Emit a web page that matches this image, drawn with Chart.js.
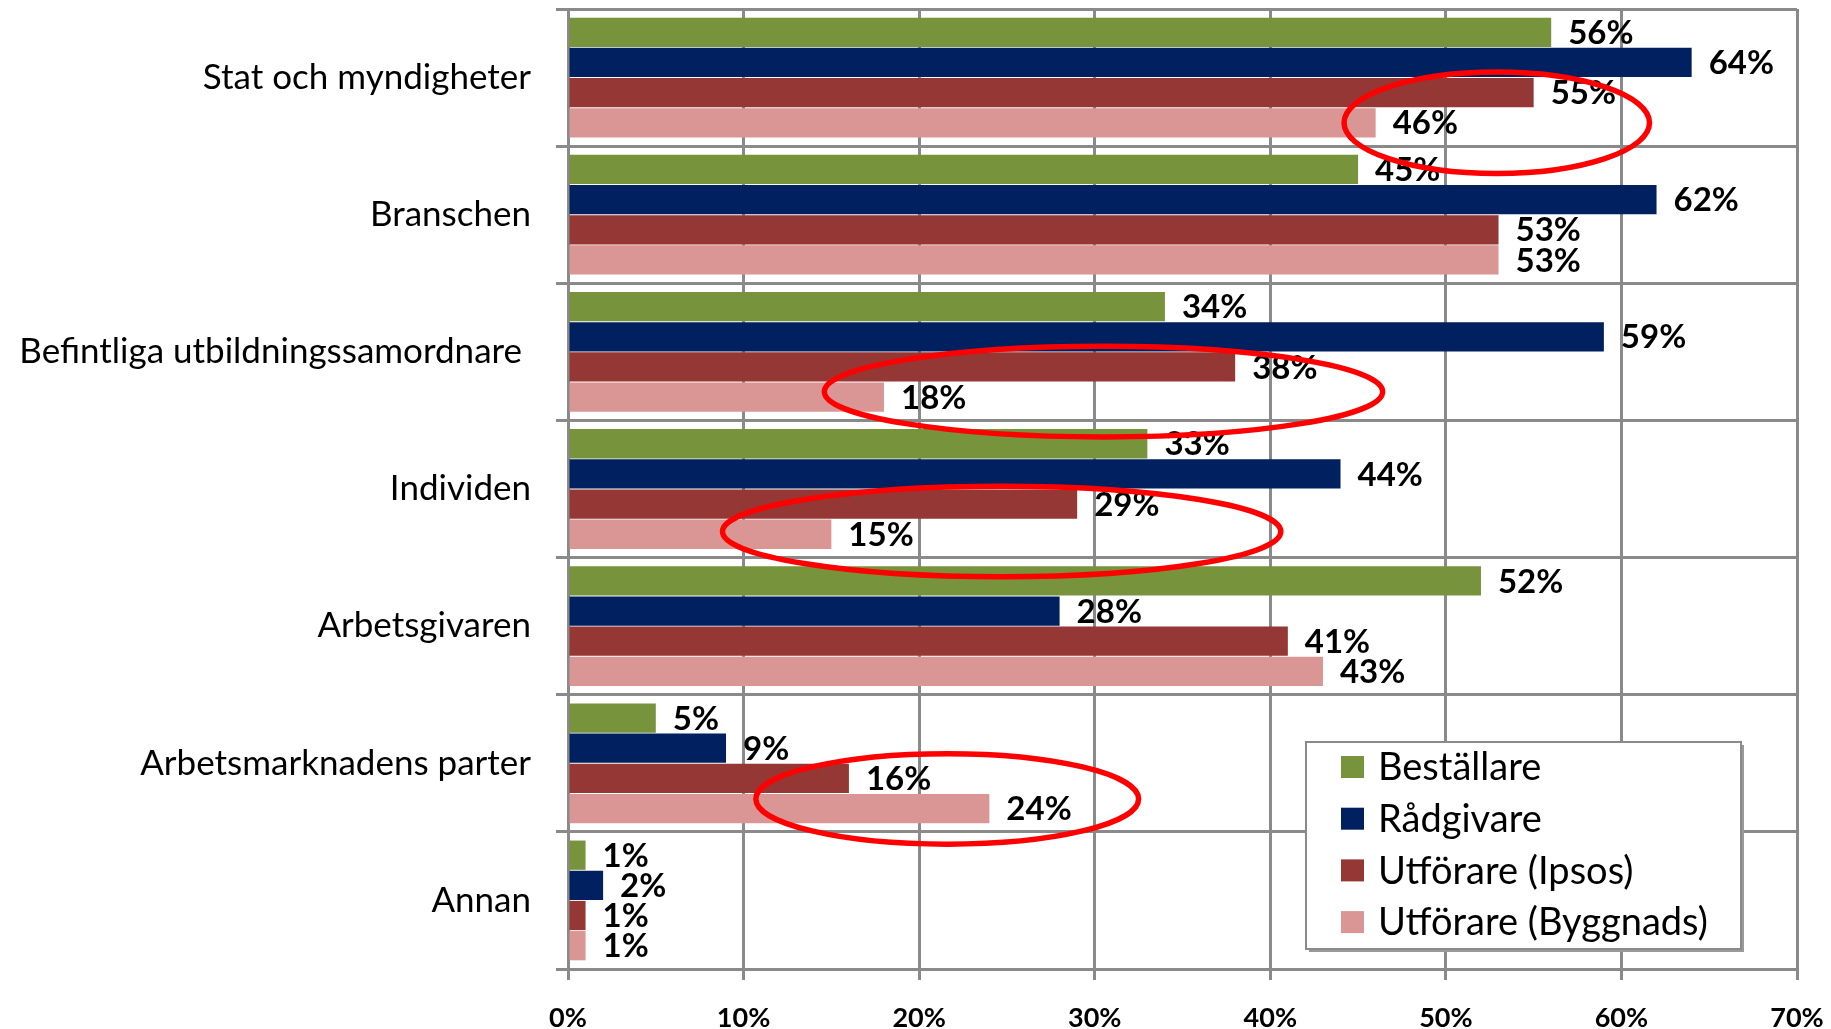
<!DOCTYPE html>
<html>
<head>
<meta charset="utf-8">
<script src="https://cdn.jsdelivr.net/npm/chart.js@4/dist/chart.umd.min.js"></script>
<style>
  html, body { margin: 0; padding: 0; background: #ffffff; }
  canvas { display: block; }
</style>
</head>
<body>
<canvas id="chart" width="1831" height="1029"></canvas>
<script>
// Categories (top to bottom) and the four respondent groups, in percent
const categories = [
  'Stat och myndigheter',
  'Branschen',
  'Befintliga utbildningssamordnare ',
  'Individen',
  'Arbetsgivaren',
  'Arbetsmarknadens parter',
  'Annan'
];
const seriesNames = ['Beställare', 'Rådgivare', 'Utförare (Ipsos)', 'Utförare (Byggnads)'];
const bestallare       = [56, 45, 34, 33, 52, 5, 1];
const radgivare        = [64, 62, 59, 44, 28, 9, 2];
const utforareIpsos    = [55, 53, 38, 29, 41, 16, 1];
const utforareByggnads = [46, 53, 18, 15, 43, 24, 1];
const xTickValues = [0, 10, 20, 30, 40, 50, 60, 70];

const seriesColors = ['#77933c', '#002060', '#953735', '#d99694'];
const gridColor = '#8a8a8a';

// Percent labels at the end of every bar
const valueLabels = {
  id: 'valueLabels',
  afterDatasetsDraw(chart, args, opts) {
    const ctx = chart.ctx;
    ctx.save();
    ctx.font = opts.font;
    ctx.fillStyle = opts.color;
    ctx.textAlign = 'left';
    ctx.textBaseline = 'middle';
    chart.data.datasets.forEach((ds, i) => {
      chart.getDatasetMeta(i).data.forEach((bar, j) => {
        ctx.fillText(ds.data[j] + '%', bar.x + opts.offset, bar.y + 1);
      });
    });
    ctx.restore();
  }
};

// Red ellipses that highlight groups of bars, placed in axis units
const highlightRings = {
  id: 'highlightRings',
  afterDraw(chart, args, opts) {
    const ctx = chart.ctx;
    const xs = chart.scales.x, ys = chart.scales.y;
    const band = ys.getPixelForValue(1) - ys.getPixelForValue(0);
    ctx.save();
    ctx.strokeStyle = opts.color;
    ctx.lineWidth = opts.width;
    opts.rings.forEach(r => {
      const cx = xs.getPixelForValue(r.center);
      const rx = xs.getPixelForValue(r.center + r.halfSpan) - cx;
      const cy = ys.getPixelForValue(r.category) + r.shift * band;
      const ry = r.halfHeight * band;
      ctx.beginPath();
      ctx.ellipse(cx, cy, rx, ry, 0, 0, Math.PI * 2);
      ctx.stroke();
    });
    ctx.restore();
  }
};

// Boxed legend inside the lower right of the plot
const boxLegend = {
  id: 'boxLegend',
  afterDraw(chart, args, opts) {
    const ctx = chart.ctx;
    const a = chart.chartArea;
    const left = a.right - opts.fromRight;
    const top = a.bottom - opts.fromBottom;
    const w = opts.width, h = opts.height;
    ctx.save();
    ctx.fillStyle = '#9a9a9a';
    ctx.fillRect(left + 3, top + 3, w, h);
    ctx.fillStyle = '#ffffff';
    ctx.fillRect(left, top, w, h);
    ctx.strokeStyle = gridColor;
    ctx.lineWidth = 2;
    ctx.strokeRect(left, top, w, h);
    ctx.font = opts.font;
    ctx.textAlign = 'left';
    ctx.textBaseline = 'middle';
    chart.data.datasets.forEach((ds, i) => {
      const cy = top + opts.firstRow + i * opts.rowGap;
      ctx.fillStyle = ds.backgroundColor;
      ctx.fillRect(left + opts.boxX, cy - 11, 23, 22);
      ctx.fillStyle = '#000000';
      ctx.fillText(ds.label, left + opts.textX, cy + 1);
    });
    ctx.restore();
  }
};

const seriesValues = [bestallare, radgivare, utforareIpsos, utforareByggnads];

new Chart(document.getElementById('chart'), {
  type: 'bar',
  data: {
    labels: categories,
    datasets: seriesValues.map((vals, i) => ({
      label: seriesNames[i],
      data: vals,
      backgroundColor: seriesColors[i],
      borderWidth: 0,
      categoryPercentage: 0.88,
      barPercentage: 0.97
    }))
  },
  plugins: [valueLabels, highlightRings, boxLegend],
  options: {
    indexAxis: 'y',
    responsive: false,
    animation: false,
    devicePixelRatio: 1,
    layout: { padding: { left: 0, right: 34, top: 9, bottom: 0 } },
    plugins: {
      legend: { display: false },
      tooltip: { enabled: false },
      valueLabels: { font: 'bold 33px Lato', color: '#000000', offset: 17 },
      highlightRings: {
        color: '#ff0000',
        width: 5.5,
        rings: [
          { category: 0, center: 52.9, halfSpan: 8.7, shift: 0.33, halfHeight: 0.37 },
          { category: 2, center: 30.5, halfSpan: 15.9, shift: 0.29, halfHeight: 0.33 },
          { category: 3, center: 24.7, halfSpan: 15.9, shift: 0.31, halfHeight: 0.33 },
          { category: 5, center: 21.6, halfSpan: 10.9, shift: 0.26, halfHeight: 0.33 }
        ]
      },
      boxLegend: {
        fromRight: 491, fromBottom: 227, width: 435, height: 207,
        font: '38px Lato', firstRow: 25, rowGap: 51.7, boxX: 35, textX: 72
      }
    },
    scales: {
      x: {
        type: 'linear',
        position: 'bottom',
        min: 0,
        max: 70,
        afterBuildTicks(scale) { scale.ticks = xTickValues.map(v => ({ value: v })); },
        afterFit(scale) {
          scale.height = 60;
          scale.paddingLeft = 0;
          scale.paddingRight = 0;
        },
        grid: { color: gridColor, lineWidth: 3, tickLength: 11, drawTicks: true },
        border: { display: true, color: gridColor, width: 3 },
        ticks: {
          color: '#000000',
          padding: 22,
          font: { family: 'Lato', size: 27, weight: 'bold' },
          callback: v => v + '%'
        }
      },
      y: {
        afterFit(scale) {
          scale.width = 568;
          scale.paddingTop = 0;
          scale.paddingBottom = 0;
        },
        grid: { color: gridColor, lineWidth: 3, tickLength: 12, offset: true },
        border: { display: true, color: gridColor, width: 3 },
        ticks: {
          color: '#000000',
          padding: 25,
          font: { family: 'Lato', size: 35 }
        }
      }
    }
  }
});
</script>
</body>
</html>
